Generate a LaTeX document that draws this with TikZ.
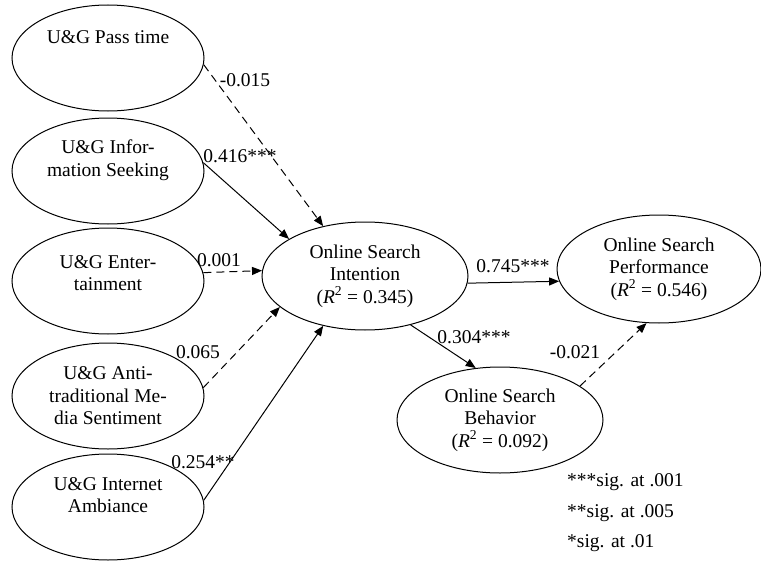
\documentclass[tikz,border=0pt]{standalone}
\usepackage{fontspec}
\setmainfont{Liberation Serif}
\usetikzlibrary{shapes.geometric,arrows.meta}
\newcommand{\dfs}{\fontsize{19.5}{22.5}\selectfont}
\newcommand{\Rsq}[1]{(\textit{R}\textsuperscript{2} = #1)}
\tikzset{
  lat/.style={ellipse, draw, line width=1pt, inner sep=0pt, align=center, font=\dfs},
  leftell/.style={lat, minimum width=192pt, minimum height=106pt},
  txt/.style={align=center, inner sep=0pt, font=\dfs},
  coef/.style={inner sep=0pt, font=\dfs},
  arr/.style={line width=1pt, -{Triangle[length=10pt,width=8pt]}},
  darr/.style={arr, dash pattern=on 8pt off 5pt},
}
\begin{document}
\begin{tikzpicture}[x=1pt,y=-1pt]
\useasboundingbox (0,0) rectangle (761,562);
% left constructs
\node[leftell] (p1) at (108,58) {};
\node[leftell] (p2) at (108,171) {};
\node[leftell] (p3) at (108,281) {};
\node[leftell] (p4) at (108,396) {};
\node[leftell] (p5) at (108,507) {};
\node[txt] (t1) at (108,37) {U\&G Pass time};
\node[txt] (t2) at (108,160) {U\&G Infor-\\mation Seeking};
\node[txt] (t3) at (108,273) {U\&G Enter-\\tainment};
\node[txt] (t4) at (108,396) {U\&G Anti-\\traditional Me-\\dia Sentiment};
\node[txt] (t5) at (108,495) {U\&G Internet\\Ambiance};
% endogenous constructs
\node[lat, minimum width=206pt, minimum height=108pt] (int) at (365,276) {Online Search\\Intention\\\Rsq{0.345}};
\node[lat, minimum width=204pt, minimum height=108pt] (perf) at (659,269) {Online Search\\Performance\\\Rsq{0.546}};
\node[lat, minimum width=206pt, minimum height=106pt] (beh) at (500,420) {Online Search\\Behavior\\\Rsq{0.092}};
% paths
\draw[darr] (p1.-4) -- (int.130);
\draw[arr] (p2.5) -- (int.154);
\draw[darr] (p3.5.5) -- (int.177.5);
\draw[darr] (p4.5.5) -- (int.200);
\draw[arr] (p5.4) -- (int.230);
\draw[arr] (int.-4) -- (perf.187.5);
\draw[arr] (int.-47) -- (beh.115);
\draw[darr] (beh.23.6) -- (perf.257);
% coefficients
\node[coef] (c1) at (245,80) {-0.015};
\node[coef] (c2) at (240,156) {0.416***};
\node[coef] (c3) at (219,260) {0.001};
\node[coef] (c4) at (198,352) {0.065};
\node[coef] (c5) at (203,462) {0.254**};
\node[coef] (c6) at (513,266) {0.745***};
\node[coef] (c7) at (474,337) {0.304***};
\node[coef] (c8) at (575,352) {-0.021};
% legend
\node[coef, anchor=west] (l1) at (567,482) {***sig. at .001};
\node[coef, anchor=west] (l2) at (567,513) {**sig. at .005};
\node[coef, anchor=west] (l3) at (567,543) {*sig. at .01};
\end{tikzpicture}
\end{document}
